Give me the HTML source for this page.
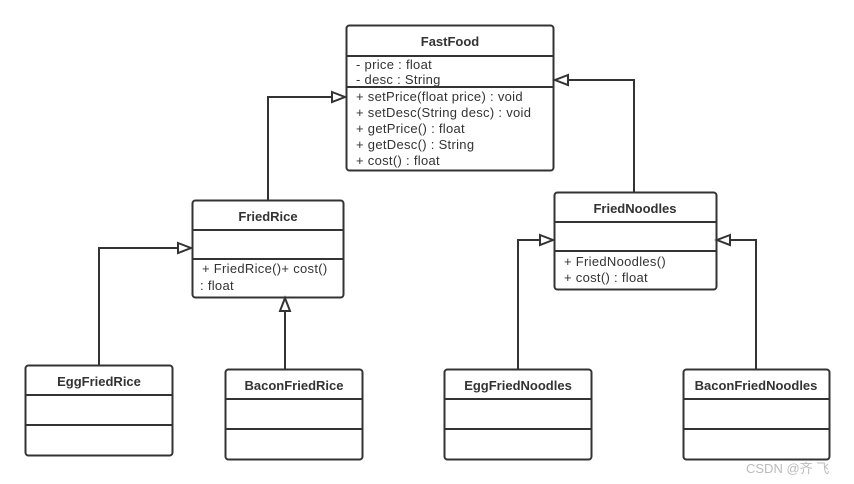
<!DOCTYPE html>
<html><head><meta charset="utf-8"><style>
html,body{margin:0;padding:0;background:#fff;}
svg{display:block;}
text{font-family:"Liberation Sans","Noto Sans CJK SC",sans-serif;font-size:13px;letter-spacing:0.3px;fill:#333;}
.b{font-weight:bold;letter-spacing:0;}
</style></head><body>
<svg width="854" height="484" viewBox="0 0 854 484" xmlns="http://www.w3.org/2000/svg">
<g fill="#fff" stroke="#333" stroke-width="2">
<rect x="346.5" y="25.5" width="207" height="145" rx="3"/>
<line x1="346" y1="56" x2="553" y2="56"/><line x1="346" y1="87" x2="553" y2="87"/>
<rect x="192.5" y="200.5" width="151" height="97" rx="3"/>
<line x1="192" y1="230" x2="343" y2="230"/><line x1="192" y1="259" x2="343" y2="259"/>
<rect x="554.5" y="192.5" width="162" height="97" rx="3"/>
<line x1="554" y1="222" x2="716" y2="222"/><line x1="554" y1="251" x2="716" y2="251"/>
<rect x="25.5" y="365.5" width="147" height="90" rx="3"/>
<line x1="25" y1="395" x2="172" y2="395"/><line x1="25" y1="425" x2="172" y2="425"/>
<rect x="225.5" y="369.5" width="137" height="90" rx="3"/>
<line x1="225" y1="399" x2="362" y2="399"/><line x1="225" y1="429" x2="362" y2="429"/>
<rect x="444.5" y="369.5" width="147" height="90" rx="3"/>
<line x1="444" y1="399" x2="591" y2="399"/><line x1="444" y1="429" x2="591" y2="429"/>
<rect x="683.5" y="369.5" width="146" height="90" rx="3"/>
<line x1="683" y1="399" x2="829" y2="399"/><line x1="683" y1="429" x2="829" y2="429"/>
</g>
<g fill="none" stroke="#333" stroke-width="2">
<polyline points="268,200 268,97 332,97"/>
<polyline points="634,192 634,80 568,80"/>
<polyline points="99,365 99,248 178,248"/>
<polyline points="285,369 285,311"/>
<polyline points="518,369 518,240 540,240"/>
<polyline points="756,369 756,240 730,240"/>
</g>
<g fill="#fff" stroke="#333" stroke-width="2">
<polygon points="332,92 345,97 332,102"/>
<polygon points="568,75 555,80 568,85"/>
<polygon points="178,243 191,248 178,253"/>
<polygon points="280,311 285,298 290,311"/>
<polygon points="540,235 553,240 540,245"/>
<polygon points="730,235 717,240 730,245"/>
</g>
<text class="b" x="450" y="46" text-anchor="middle">FastFood</text>
<text x="356" y="69">- price : float</text>
<text x="356" y="84">- desc : String</text>
<text x="356" y="101">+ setPrice(float price) : void</text>
<text x="356" y="117">+ setDesc(String desc) : void</text>
<text x="356" y="133">+ getPrice() : float</text>
<text x="356" y="149">+ getDesc() : String</text>
<text x="356" y="165">+ cost() : float</text>
<text class="b" x="268" y="221" text-anchor="middle">FriedRice</text>
<text x="202" y="273">+ FriedRice()+ cost()</text>
<text x="200" y="290">: float</text>
<text class="b" x="635" y="213" text-anchor="middle">FriedNoodles</text>
<text x="564" y="266">+ FriedNoodles()</text>
<text x="564" y="282">+ cost() : float</text>
<text class="b" x="99" y="386" text-anchor="middle">EggFriedRice</text>
<text class="b" x="294" y="390" text-anchor="middle">BaconFriedRice</text>
<text class="b" x="518" y="390" text-anchor="middle">EggFriedNoodles</text>
<text class="b" x="756" y="390" text-anchor="middle">BaconFriedNoodles</text>
<text x="746" y="473" style="fill:#bbb;font-size:13px;letter-spacing:0">CSDN @齐 飞</text>
</svg>
</body></html>
